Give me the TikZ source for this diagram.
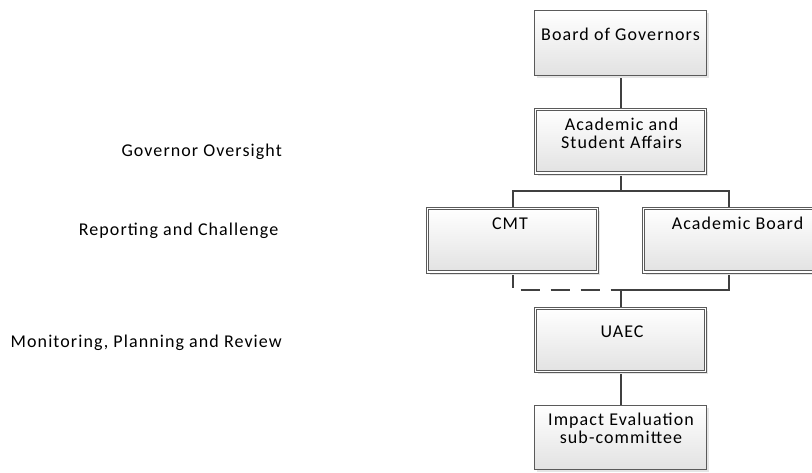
\documentclass[tikz,border=0pt]{standalone}
\usepackage{fontspec}
\setmainfont[LetterSpace=6]{Carlito}
\usetikzlibrary{shadows,calc}
\pgfdeclarelayer{bg}
\pgfsetlayers{bg,main}
\definecolor{edgec}{RGB}{90,90,90}
\definecolor{linec}{RGB}{64,64,64}
\definecolor{shadec}{RGB}{226,226,226}
\newcommand{\tstrut}{\rule{0pt}{14pt}}
\tikzset{
  boxbase/.style={draw=edgec, line width=0.9pt, top color=white, bottom color=shadec,
    anchor=north west, inner sep=0pt, outer sep=0pt,
    drop shadow={shadow xshift=2.5pt, shadow yshift=-2.5pt, fill=black!10, opacity=1}},
  singlebox/.style={boxbase},
  doublebox/.style={boxbase, double=white, double distance=1.6pt, line width=0.8pt},
  boxtext/.style={anchor=north, inner sep=0pt, align=center, text=black,
    font=\fontsize{18}{18.5}\selectfont},
  sidetext/.style={anchor=base east, inner sep=0pt, text=black,
    font=\fontsize{18}{18.5}\selectfont},
  conn/.style={draw=linec, line width=2pt},
  dashconn/.style={conn, dash pattern=on 19.5pt off 10.5pt, dash phase=4pt}
}
\begin{document}
\begin{tikzpicture}[x=1pt,y=-1pt]
\useasboundingbox (0,0) rectangle (812,472);
\clip (0,0) rectangle (812,472);

\node[singlebox, minimum width=172pt, minimum height=64.5pt,
  label={[boxtext, yshift=-15.5pt]north:{\tstrut Board of Governors}}] (board) at (534.5,10.5) {};
\node[doublebox, minimum width=170pt, minimum height=63.5pt,
  label={[boxtext, yshift=-6.5pt, xshift=1pt]north:{\tstrut Academic and\\Student Affairs}}] (asa) at (535.5,109.5) {};
\node[doublebox, minimum width=170pt, minimum height=63.5pt,
  label={[boxtext, yshift=-7pt, xshift=-2.5pt]north:{\tstrut CMT}}] (cmt) at (427.5,208.5) {};
\node[doublebox, minimum width=170pt, minimum height=63.5pt,
  label={[boxtext, yshift=-7pt, xshift=9pt]north:{\tstrut Academic Board}}] (ab) at (643.5,208.5) {};
\node[doublebox, minimum width=170pt, minimum height=63pt,
  label={[boxtext, yshift=-15pt, xshift=1.5pt]north:{\tstrut UAEC}}] (uaec) at (535.5,308.5) {};
\node[singlebox, minimum width=172pt, minimum height=64pt,
  label={[boxtext, yshift=-5.5pt, xshift=0.5pt]north:{\tstrut Impact Evaluation\\sub-committee}}] (impact) at (534.5,405.5) {};

\node[sidetext] (gov) at (282,156) {Governor Oversight};
\node[sidetext] (rep) at (278.5,235) {Reporting and Challenge};
\node[sidetext] (mon) at (282,347.5) {Monitoring, Planning and Review};

\coordinate (j1) at (620.5,191);
\coordinate (j2) at (620.5,290);
\begin{pgfonlayer}{bg}
\fill[white] (0,0) rectangle (812,472);
\draw[conn] (board.south) -- (asa.north);
\draw[conn] (asa.south) -- (j1);
\draw[conn] (cmt.north) |- (j1) -| (ab.north);
\draw[dashconn] (cmt.south) |- (j2);
\draw[conn] (ab.south) |- (j2);
\draw[conn] (j2) -- (uaec.north);
\draw[conn] (uaec.south) -- (impact.north);
\end{pgfonlayer}
\end{tikzpicture}
\end{document}
